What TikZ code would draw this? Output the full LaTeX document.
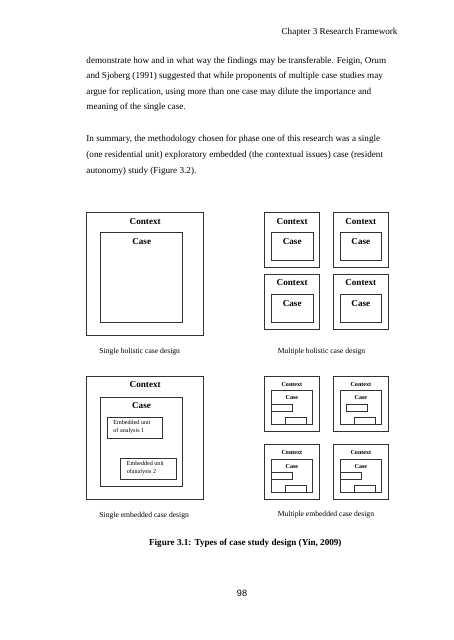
\documentclass[tikz,border=0pt]{standalone}
\usepackage{fontspec}
\setmainfont{Liberation Serif}
\newfontfamily\pagenumfont{Liberation Sans}
\begin{document}
\begin{tikzpicture}[x=1.3135pt,y=-1.3135pt,
  box/.style={draw=black!80,line width=0.9pt},
  txt/.style={inner sep=0pt,text height=0.65em,text depth=0pt,font=\fontsize{12}{14}\selectfont},
  btxt/.style={txt,font=\fontsize{12}{14}\selectfont\bfseries},
  sbtxt/.style={txt,font=\fontsize{8}{9.5}\selectfont\bfseries},
  captxt/.style={txt,font=\fontsize{10}{12}\selectfont},
  smalltxt/.style={inner sep=0pt,font=\fontsize{8}{10.5}\selectfont,align=left}]
\useasboundingbox[fill=white] (0,0) rectangle (453,640);

% header and body text
\node[txt,anchor=east] (hdr) at (397.7,32.3) {Chapter 3 Research Framework};
\node[txt,anchor=west] (l1) at (86.3,60.7) {demonstrate how and in what way the findings may be transferable. Feigin, Orum};
\node[txt,anchor=west] (l2) at (86.3,76.2) {and Sjoberg (1991) suggested that while proponents of multiple case studies may};
\node[txt,anchor=west] (l3) at (86.3,91.7) {argue for replication, using more than one case may dilute the importance and};
\node[txt,anchor=west] (l4) at (86.3,107.5) {meaning of the single case.};
\node[txt,anchor=west] (l5) at (86.3,138.7) {In summary, the methodology chosen for phase one of this research was a single};
\node[txt,anchor=west] (l6) at (86.3,154.7) {(one residential unit) exploratory embedded (the contextual issues) case (resident};
\node[txt,anchor=west] (l7) at (86.3,170.7) {autonomy) study (Figure 3.2).};

% single holistic
\draw[box] (86.7,212.3) rectangle (203.7,335.7);
\draw[box] (100.7,232.7) rectangle (182.7,322);
\node[btxt] (shctx) at (145.2,221.7) {Context};
\node[btxt] (shcase) at (141.7,242.3) {Case};
\node[captxt,anchor=west] (shcap) at (99.3,350.7) {Single holistic case design};

% multiple holistic
\foreach \px/\py/\nm in {264.7/212.3/a,333.3/212.3/b,264.7/274/c,333.3/274/d}{
  \begin{scope}[shift={(\px,\py)}]
    \draw[box] (0,0) rectangle (55,55);
    \draw[box] (6.6,20.5) rectangle (48.3,48.3);
    \node[btxt] (mh\nm ctx) at (27.5,9.3) {Context};
    \node[btxt] (mh\nm case) at (27.5,30) {Case};
  \end{scope}
}
\node[captxt,anchor=west] (mhcap) at (277.7,350.7) {Multiple holistic case design};

% single embedded
\draw[box] (86.7,376.3) rectangle (203.7,499.7);
\draw[box] (100.7,397.3) rectangle (182.7,486.3);
\node[btxt] (sectx) at (145.2,385.3) {Context};
\node[btxt] (secase) at (141.5,406.3) {Case};
\draw[box] (107.3,417.7) rectangle (162.3,438.7);
\node[smalltxt,anchor=north west] (eu1) at (113.3,420.3) {Embedded unit\\of analysis 1};
\draw[box] (120.7,458.3) rectangle (176,479.3);
\node[smalltxt,anchor=north west] (eu2) at (126.7,461.3) {Embedded unit\\ofanalysis 2};
\node[captxt,anchor=west] (secap) at (99.3,515) {Single embedded case design};

% multiple embedded
\foreach \px/\py/\rl/\nm in {264.3/376.3/6.7/a,333.3/376.3/13.4/b,264.3/444.7/6.7/c,333.3/444.7/6.7/d}{
  \begin{scope}[shift={(\px,\py)}]
    \draw[box] (0,0) rectangle (55.2,55);
    \draw[box] (6.7,14.2) rectangle (48.5,47.8);
    \node[sbtxt] (me\nm ctx) at (27.6,7.6) {Context};
    \node[sbtxt] (me\nm case) at (27.6,21.2) {Case};
    \draw[box] (\rl,27.7) rectangle ++(21,7);
    \draw[box] (21,41) rectangle (42,47.8);
  \end{scope}
}
\node[captxt,anchor=west] (mecap) at (277.7,514.5) {Multiple embedded case design};

% figure caption and page number
\node[btxt] (figcap) at (245.3,543) {Figure 3.1: Types of case study design (Yin, 2009)};
\node[txt,font=\fontsize{12}{14}\pagenumfont] (pnum) at (242,593.7) {98};
\end{tikzpicture}
\end{document}
